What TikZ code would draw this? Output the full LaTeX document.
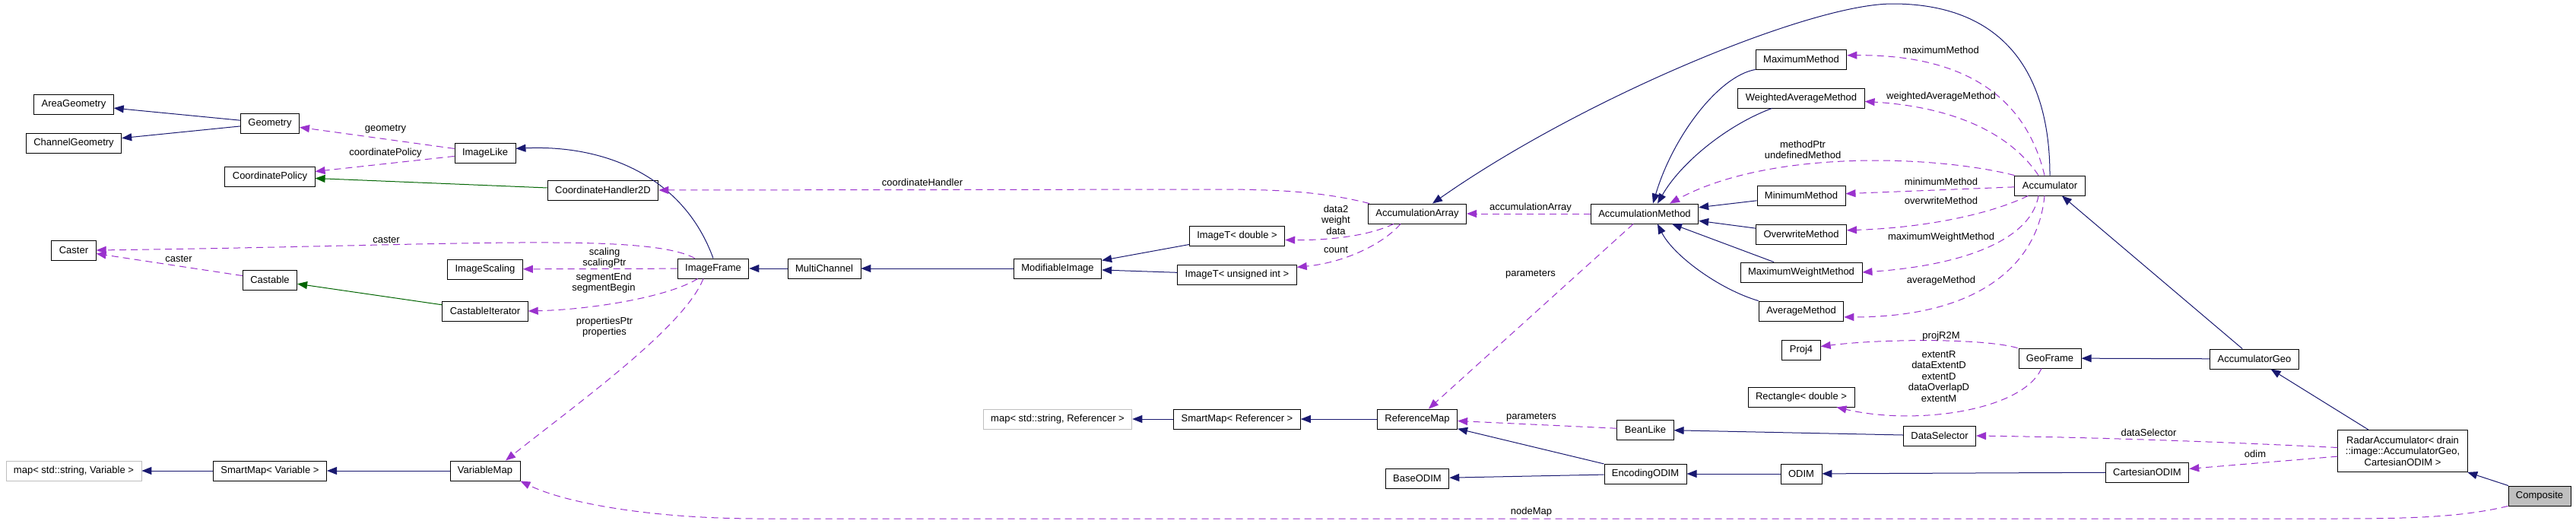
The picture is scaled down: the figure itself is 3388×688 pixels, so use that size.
\documentclass[tikz,border=0pt]{standalone}
\usepackage{fontspec}
\setmainfont{Liberation Sans}
\usepackage{tikz}
\usetikzlibrary{arrows.meta, calc}
\definecolor{dxnavy}{HTML}{191970}
\definecolor{dxgreen}{HTML}{006400}
\definecolor{dxpurple}{HTML}{9A32CD}
\definecolor{dxgray}{HTML}{BFBFBF}

\begin{document}
\begin{tikzpicture}[x=1pt, y=-1pt,
  cls/.style={draw, line width=0.9pt, minimum height=26pt, inner xsep=10pt, inner ysep=5pt,
    font={\fontsize{13}{14.5}\selectfont}, align=center},
  ext/.style={cls, draw=dxgray},
  inh/.style={dxnavy, line width=1pt, -{Triangle[length=13pt,width=10pt]}},
  prot/.style={inh, dxgreen},
  usage/.style={dxpurple, line width=1pt, dash pattern=on 9pt off 6pt, -{Triangle[length=13pt,width=10pt]}},
  lbl/.style={font={\fontsize{13}{14.5}\selectfont}, text=black, align=center, inner sep=0pt}]
  \useasboundingbox (0,0) rectangle (3388,688);
  % classes
  \foreach \n/\x/\y/\t in {areageo/97/137/AreaGeometry, chgeo/97/188/ChannelGeometry,
      geometry/355/162/Geometry, imagelike/638/201/ImageLike, coordpol/355/232/CoordinatePolicy,
      caster/97/329/Caster, castable/355/368/Castable, imgscaling/638/354/ImageScaling,
      castiter/638/409/CastableIterator, smartvar/355/619/{SmartMap< Variable >},
      varmap/638/619/VariableMap, coordhd/793/250/CoordinateHandler2D, imgframe/938/353/ImageFrame,
      multich/1084/353/MultiChannel, modimg/1391/353/ModifiableImage, imgtd/1627/310/{ImageT< double >},
      imgtu/1627/361/{ImageT< unsigned int >}, smartref/1627/551/{SmartMap< Referencer >},
      refmap/1864/551/ReferenceMap, accarr/1864/281/AccumulationArray, baseodim/1864/629/BaseODIM,
      accmeth/2163/281/AccumulationMethod, beanlike/2164/565/BeanLike, encodim/2164/623/EncodingODIM,
      maxm/2369/78/MaximumMethod, wavgm/2369/129/WeightedAverageMethod, minm/2369/257/MinimumMethod,
      overm/2369/308/OverwriteMethod, maxwm/2369/358/MaximumWeightMethod, avgm/2369/409/AverageMethod,
      proj/2369/460/Proj4, rectd/2369/522/{Rectangle< double >}, odim/2369/623/ODIM,
      datasel/2551/573/DataSelector, accum/2696/244/Accumulator, geoframe/2696/471/GeoFrame,
      accgeo/2965/472/AccumulatorGeo, cartodim/2824/621/CartesianODIM}{
    \node[cls] (\n) at (\x,\y) {\t};
  }
  \node[ext] (mapvar) at (97,619) {map< std::string, Variable >};
  \node[ext] (mapref) at (1391,551) {map< std::string, Referencer >};
  \node[cls, minimum height=55pt] (radar) at (3160,593) {RadarAccumulator< drain\\::image::AccumulatorGeo,\\CartesianODIM >};
  \node[cls, fill=dxgray] (composite) at (3340,652) {Composite};

  % public inheritance
  \foreach \a/\b in {geometry/areageo, geometry/chgeo, multich/imgframe, modimg/multich,
      imgtd/modimg, imgtu/modimg, smartvar/mapvar, varmap/smartvar, smartref/mapref,
      refmap/smartref, encodim/refmap, encodim/baseodim, odim/encodim, cartodim/odim,
      datasel/beanlike, minm/accmeth, overm/accmeth, maxwm/accmeth, accgeo/accum,
      accgeo/geoframe, radar/accgeo, composite/radar}
    \draw[inh] (\a) -- (\b);
  \draw[inh] (imgframe.north) .. controls (900,235) and (800,190) .. (imagelike.8);
  \draw[inh] (accum.north) .. controls (2696,90) and (2630,5) .. (2489,5)
    .. controls (2380,5) and (2080,130) .. ($(accarr.north)+(20,0)$);
  \draw[inh] (maxm.south west) .. controls (2260,100) and (2200,180) .. ($(accmeth.north)+(11,0)$);
  \draw[inh] ($(wavgm.south west)+(45,0)$) .. controls (2270,165) and (2210,215) .. ($(accmeth.north)+(17,0)$);
  \draw[inh] (avgm.north west) .. controls (2260,380) and (2200,335) .. ($(accmeth.south)+(17,0)$);

  % protected inheritance
  \draw[prot] (coordhd) -- (coordpol);
  \draw[prot] (castiter) -- (castable);

  % usage
  \draw[usage] (imagelike) -- (geometry) node[lbl] at (507,170) {geometry};
  \draw[usage] (imagelike) -- (coordpol) node[lbl] at (507,201) {coordinatePolicy};
  \draw[usage] ($(imgframe.north west)+(23,0)$) .. controls (850,305) and (600,323) .. (caster.east)
    node[lbl] at (508,315) {caster};
  \draw[usage] (castable) -- (caster) node[lbl] at (235,340) {caster};
  \draw[usage] (imgframe) -- (imgscaling) node[lbl] at (795,339) {scaling\\scalingPtr};
  \draw[usage] ($(imgframe.south west)+(27,0)$) .. controls (880,390) and (780,407) .. (castiter.east)
    node[lbl] at (794,372) {segmentEnd\\segmentBegin};
  \draw[usage] ($(imgframe.south)+(-13,0)$) .. controls (900,430) and (760,530) .. ($(varmap.north)+(27,0)$)
    node[lbl] at (795,430) {propertiesPtr\\properties};
  \draw[usage] ($(accarr.north west)+(2,0)$) .. controls (1740,252) and (1680,249) .. (1600,249) -- (coordhd.east)
    node[lbl] at (1213,240) {coordinateHandler};
  \draw[usage] ($(accarr.south)+(-31,0)$) .. controls (1800,310) and (1750,316) .. (imgtd.-5)
    node[lbl] at (1757,289) {data2\\weight\\data};
  \draw[usage] ($(accarr.south)+(-22,0)$) .. controls (1820,320) and (1770,345) .. (imgtu.7)
    node[lbl] at (1757,328) {count};
  \draw[usage] (accmeth) -- (accarr) node[lbl] at (2013,273) {accumulationArray};
  \draw[usage] (accmeth) -- (refmap) node[lbl] at (2013,361) {parameters};
  \draw[usage] (beanlike) -- (refmap) node[lbl] at (2014,549) {parameters};
  \draw[usage] (composite.south west) .. controls (3230,682) and (3150,682) .. (3050,682) -- (1000,682)
    .. controls (850,682) and (740,660) .. (varmap.south east) node[lbl] at (2014,673) {nodeMap};
  \draw[usage] ($(accum.north)+(-7,0)$) .. controls (2660,110) and (2560,72) .. (maxm.5)
    node[lbl] at (2553,66) {maximumMethod};
  \draw[usage] ($(accum.north)+(-15,0)$) .. controls (2640,170) and (2560,140) .. (wavgm.-3)
    node[lbl] at (2553,127) {weightedAverageMethod};
  \draw[usage] (accum.north west) .. controls (2550,205) and (2330,195) .. ($(accmeth.north)+(33,0)$)
    node[lbl] at (2371,197) {methodPtr\\undefinedMethod};
  \draw[usage] (accum) -- (minm) node[lbl] at (2553,239) {minimumMethod};
  \draw[usage] ($(accum.south west)+(18,0)$) .. controls (2610,285) and (2520,300) .. (overm.5)
    node[lbl] at (2553,264) {overwriteMethod};
  \draw[usage] ($(accum.south)+(-15,0)$) .. controls (2670,320) and (2570,350) .. (maxwm.east)
    node[lbl] at (2553,312) {maximumWeightMethod};
  \draw[usage] ($(accum.south)+(-7,0)$) .. controls (2680,350) and (2600,417) .. (avgm.-8)
    node[lbl] at (2553,369) {averageMethod};
  \draw[usage] ($(geoframe.north west)+(-1,0)$) .. controls (2610,445) and (2480,445) .. (proj.10)
    node[lbl] at (2553,442) {projR2M};
  \draw[usage] ($(geoframe.south)+(-11,0)$) .. controls (2660,540) and (2520,560) .. ($(rectd.south east)+(-24,0)$)
    node[lbl] at (2550,495) {extentR\\dataExtentD\\extentD\\dataOverlapD\\extentM};
  \draw[usage] (radar.177) .. controls (2900,580) and (2750,575) .. (datasel.east)
    node[lbl] at (2826,569) {dataSelector};
  \draw[usage] (radar) -- (cartodim) node[lbl] at (2966,597) {odim};
\end{tikzpicture}
\end{document}
